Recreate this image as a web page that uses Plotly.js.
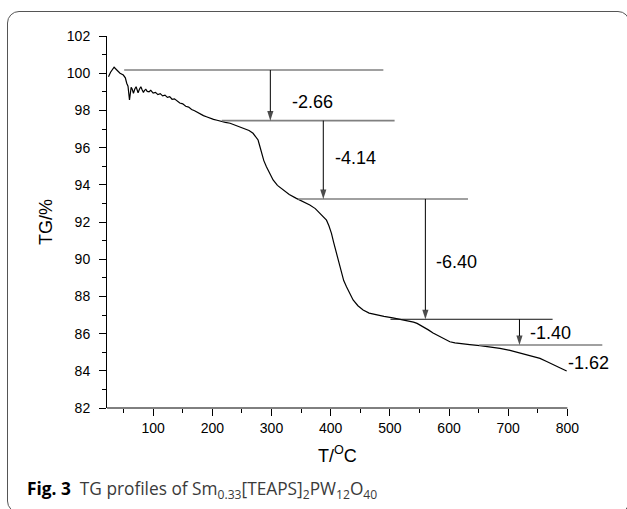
<!DOCTYPE html>
<html><head><meta charset="utf-8">
<script src="https://cdn.plot.ly/plotly-3.0.1.min.js"></script>
<style>
html,body{margin:0;padding:0;background:#fff;overflow:hidden}
#wrap{position:relative;width:627px;height:509px}
#chart{position:absolute;left:0;top:0;width:627px;height:509px}
#frame{position:absolute;left:7px;top:11px;width:623px;height:502px;border:1.3px solid #555;border-radius:12px;pointer-events:none;box-sizing:border-box}
</style></head>
<body><div id="wrap"><div id="chart"></div><div id="frame"></div></div>
<script>
// TG curve (temperature in °C, mass in %)
const temperature = [24.5,28,34,38,44,49.6,53,55.3,57.5,60,61.5,62.8,64.5,66.7,69,71.2,73,74.5,77,79.2,81.5,83.6,85.5,87.6,90,93,96,100,104,108,112,116,120,124,128,132,136,140,145,150,155,160,165,170,175,180,185,190,196,202,208,214,222,230,238,246.5,255,262,268.8,273,277.3,280,283,287,291.4,297,302.7,310,319.6,330,342,354,364.7,374,381.6,388,392.9,397,401.3,405,409.8,414,418.2,422,426.7,432,437.9,446,454.8,465,477.4,490,505,517,530,540,546,552,558,565,573,584.5,593,601.4,610,618.3,635,652.2,670,686,703,719.9,737,753.7,765,776.3,788,798.8];
const tgPercent = [99.81,100.05,100.32,100.2,100.0,99.9,99.75,99.46,99.3,98.56,98.9,99.24,99.15,98.92,99.15,99.27,99.1,98.95,99.15,99.27,99.1,98.97,99.08,99.13,99.02,99.0,99.08,98.93,98.97,98.85,98.9,98.78,98.82,98.7,98.74,98.6,98.62,98.5,98.4,98.35,98.22,98.18,98.05,97.98,97.88,97.82,97.72,97.66,97.58,97.52,97.47,97.44,97.36,97.31,97.22,97.13,97.02,96.92,96.77,96.62,96.41,96.1,95.69,95.3,94.97,94.6,94.26,93.97,93.72,93.48,93.27,93.1,92.91,92.72,92.47,92.28,92.1,91.8,91.39,90.9,90.32,89.75,89.24,88.85,88.52,88.15,87.81,87.5,87.27,87.1,87.0,86.93,86.85,86.77,86.7,86.62,86.55,86.45,86.35,86.2,86.03,85.85,85.7,85.56,85.5,85.46,85.41,85.35,85.28,85.21,85.1,84.97,84.84,84.67,84.5,84.31,84.15,83.99];

// Step levels (%) and their reference line extents (°C)
const stepLevels = [100.17, 97.45, 93.24, 86.77, 85.39];
const stepLineStart = [51, 216, 345, 501, 651];
const stepLineEnd = [489, 508, 632, 775, 859];
// Arrow temperatures (°C), each from step i down to step i+1
const arrowTemps = [298, 387.5, 560, 719];
// Mass-loss labels and their anchor points
const lossLabels = ['-2.66', '-4.14', '-6.40', '-1.40', '-1.62'];
const labelTemps = [331.6, 404.4, 575, 734, 798];
const labelLevels = [98.47, 95.42, 89.87, 86.05, 84.44];

// Axes
const xAxisSpan = [22, 800];     // drawn part of the temperature axis
const xViewRange = [22, 872];    // view (leaves room for the last step line)
const yRange = [82, 102];
const xTickVals = [100, 200, 300, 400, 500, 600, 700, 800];
const xMinorVals = [50, 150, 250, 350, 450, 550, 650, 750];
const yTickVals = [82, 84, 86, 88, 90, 92, 94, 96, 98, 100, 102];

const FONT = 'Liberation Sans, Arial, sans-serif';
const traces = [];

traces.push({
  x: temperature, y: tgPercent, type: 'scatter', mode: 'lines',
  line: {color: '#000', width: 1.2}, hoverinfo: 'skip'
});

stepLevels.forEach((lv, i) => {
  const dark = (i === 3);
  traces.push({
    x: [stepLineStart[i], stepLineEnd[i]], y: [lv, lv],
    type: 'scatter', mode: 'lines', hoverinfo: 'skip',
    line: {color: dark ? '#111' : '#808080', width: dark ? 1 : 1.6}
  });
});

arrowTemps.forEach((t, i) => {
  traces.push({
    x: [t, t], y: [stepLevels[i], stepLevels[i + 1]],
    type: 'scatter', mode: 'lines+markers', hoverinfo: 'skip',
    line: {color: '#000', width: 1},
    marker: {symbol: 'arrow', size: [0, 10], angleref: 'previous', color: '#000', line: {width: 0}}
  });
});

const annotations = lossLabels.map((lab, i) => ({
  x: labelTemps[i], y: labelLevels[i], xref: 'x', yref: 'y',
  text: lab, showarrow: false, xanchor: 'left', yanchor: 'middle',
  font: {family: FONT, size: 18, color: '#000'}
}));

// x-axis title centred under the drawn axis
annotations.push({
  x: (xAxisSpan[0] + xAxisSpan[1]) / 2, xref: 'x', y: -0.125, yref: 'paper',
  xanchor: 'center', yanchor: 'middle', showarrow: false,
  text: 'T/<sup>O</sup>C', font: {family: FONT, size: 18, color: '#000'}
});

// figure caption
annotations.push({
  xref: 'paper', yref: 'paper', x: -0.163, y: -0.22, xanchor: 'left', yanchor: 'middle',
  showarrow: false,
  text: '<span style="color:#000"><b>Fig. 3</b></span>&nbsp;&nbsp;TG profiles of Sm<sub>0.33</sub>[TEAPS]<sub>2</sub>PW<sub>12</sub>O<sub>40</sub>',
  font: {family: 'Open Sans, Noto Sans, sans-serif', size: 17.3, color: '#3a3a3a'}
});

const layout = {
  width: 627, height: 509,
  margin: {l: 107, r: 17, t: 36, b: 101},
  paper_bgcolor: '#fff', plot_bgcolor: '#fff',
  showlegend: false,
  font: {family: FONT, size: 14, color: '#000'},
  xaxis: {
    range: xViewRange, showgrid: false, zeroline: false, showline: false,
    ticks: 'outside', ticklen: 7, tickwidth: 1, tickcolor: '#000',
    tickmode: 'array', tickvals: xTickVals, ticktext: xTickVals.map(String),
    ticklabelstandoff: 0,
    minor: {ticks: 'outside', ticklen: 4, tickwidth: 1, tickcolor: '#000', tickmode: 'array', tickvals: xMinorVals, showgrid: false},
    tickfont: {family: FONT, size: 14, color: '#000'}
  },
  yaxis: {
    range: yRange, showgrid: false, zeroline: false,
    showline: true, linecolor: '#000', linewidth: 1,
    ticks: 'outside', ticklen: 7, tickwidth: 1, tickcolor: '#000',
    tickmode: 'array', tickvals: yTickVals, ticktext: yTickVals.map(String),
    ticklabelstandoff: 6,
    minor: {ticks: 'outside', ticklen: 4, tickwidth: 1, tickcolor: '#000', dtick: 1, tick0: 0, showgrid: false},
    tickfont: {family: FONT, size: 14, color: '#000'},
    title: {text: 'TG/%', font: {family: FONT, size: 18, color: '#000'}, standoff: 9}
  },
  shapes: [{
    type: 'line', xref: 'x', yref: 'paper', x0: xAxisSpan[0], x1: xAxisSpan[1], y0: 0, y1: 0,
    line: {color: '#000', width: 1}
  }],
  annotations: annotations
};

Plotly.newPlot('chart', traces, layout, {staticPlot: true, displayModeBar: false});
</script>
</body></html>
